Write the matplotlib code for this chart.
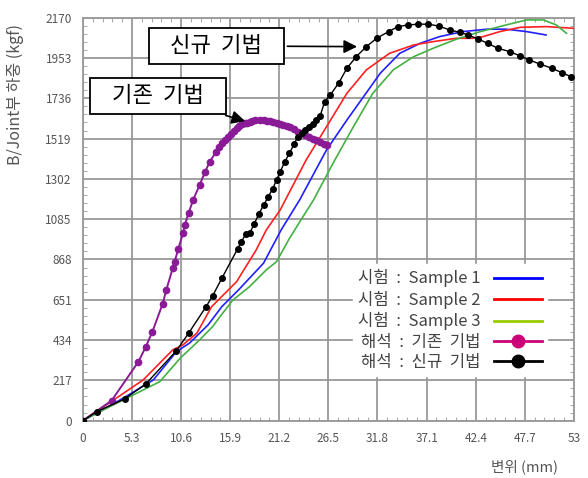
import matplotlib.pyplot as plt
import numpy as np
from matplotlib.lines import Line2D
from matplotlib.ticker import AutoMinorLocator

plt.rcParams['font.family'] = ['Noto Sans CJK KR', 'DejaVu Sans']

# ---- data ----
x_ticks = [0, 5.3, 10.6, 15.9, 21.2, 26.5, 31.8, 37.1, 42.4, 47.7, 53]
x_labels = ['0', '5.3', '10.6', '15.9', '21.2', '26.5', '31.8', '37.1', '42.4', '47.7', '53']
y_ticks = [0, 217, 434, 651, 868, 1085, 1302, 1519, 1736, 1953, 2170]

s1_x = [0, 4.35, 7.6, 10.1, 11.5, 13.5, 15.0, 16.8, 19.5, 21.4, 23.4, 26.3, 28.5, 30.3,
        32.1, 34.2, 36.4, 38.5, 41.0, 43.6, 45.7, 47.9, 50.0]
s1_y = [0, 121, 219, 372, 417, 515, 614, 704, 848, 1027, 1189, 1458, 1619, 1745,
        1871, 1978, 2032, 2068, 2095, 2108, 2108, 2095, 2077]

s2_x = [0, 3.6, 6.5, 9.7, 10.8, 12.3, 13.9, 16.6, 18.7, 19.8, 21.3, 24.1, 26.3, 28.5,
        30.6, 33.1, 35.7, 37.8, 40.3, 42.0, 43.2, 45.0, 47.2, 50.0, 52.9]
s2_y = [0, 121, 219, 381, 408, 471, 614, 749, 919, 1027, 1135, 1404, 1583, 1763,
        1889, 1978, 2023, 2041, 2059, 2059, 2068, 2095, 2118, 2122, 2113]

s3_x = [0, 2.9, 6.5, 8.3, 10.5, 12.6, 14.0, 14.8, 16.2, 18.0, 19.8, 20.9, 22.3, 24.9,
        27.0, 29.2, 31.3, 33.5, 35.7, 37.8, 40.3, 42.9, 45.7, 47.9, 49.7, 51.1, 52.2]
s3_y = [0, 75, 165, 210, 336, 435, 506, 560, 650, 722, 812, 856, 982, 1189,
        1386, 1583, 1763, 1889, 1960, 2005, 2054, 2095, 2131, 2158, 2158, 2131, 2086]

old_x = [0, 3.1, 6.0, 6.8, 7.5, 8.6, 9.0, 9.7, 9.9, 10.3, 10.8, 11.0, 11.4, 11.9,
         12.6, 13.2, 13.7, 14.4, 14.7, 15.0, 15.3, 15.7, 16.0, 16.3, 16.6, 16.9, 17.2,
         17.5, 17.7, 18.0, 18.3, 18.6, 19.1, 19.5, 19.9, 20.2, 20.5, 20.9, 21.3, 21.6,
         22.0, 22.4, 22.8, 23.2, 23.6, 24.0, 24.4, 24.8, 25.2, 25.6, 26.0, 26.3]
old_y = [0, 108, 318, 399, 479, 628, 704, 821, 856, 925, 1009, 1054, 1117, 1189,
         1269, 1341, 1395, 1449, 1472, 1494, 1512, 1529, 1545, 1560, 1575, 1586, 1595,
         1601, 1605, 1610, 1614, 1617, 1619, 1618, 1615, 1612, 1610, 1603, 1596, 1591,
         1587, 1579, 1571, 1556, 1548, 1538, 1528, 1518, 1509, 1500, 1492, 1487]

new_x = [0, 1.48, 4.5, 6.8, 10.1, 11.4, 13.3, 14.0, 15.0, 16.7, 17.1, 17.6, 18.0, 18.5,
         19.0, 19.5, 20.0, 20.5, 20.9, 21.3, 21.8, 22.3, 22.8, 23.2, 23.6, 24.0, 24.4,
         24.8, 25.2, 25.6, 26.1, 26.7, 27.6, 28.5, 29.5, 30.6, 31.7, 33.0, 34.0, 35.1,
         36.2, 37.3, 38.4, 39.6, 40.7, 41.6, 42.7, 43.7, 44.8, 46.1, 47.2, 48.2, 49.3,
         50.6, 51.7, 52.7]
new_y = [0, 48, 117, 198, 377, 470, 614, 672, 767, 925, 964, 1005, 1010, 1060,
         1115, 1160, 1205, 1250, 1296, 1341, 1395, 1440, 1490, 1529, 1548, 1565, 1582,
         1600, 1620, 1640, 1718, 1754, 1817, 1898, 1960, 2014, 2059, 2095, 2122, 2131,
         2135, 2135, 2125, 2104, 2091, 2077, 2054, 2032, 2005, 1987, 1964, 1942, 1921,
         1898, 1874, 1852]

legend_labels = ['시험  :  Sample 1', '시험  :  Sample 2', '시험  :  Sample 3',
                 '해석  :  기존  기법', '해석  :  신규  기법']

fig = plt.figure(figsize=(5.88, 4.78), dpi=100)
ax = fig.add_axes([0.141, 0.12, 0.835, 0.843])

grid_c = '#999999'
ax.plot(s1_x, s1_y, color='#2020ff', lw=1.2, zorder=3)
ax.plot(s2_x, s2_y, color='#ff2020', lw=1.2, zorder=3)
ax.plot(s3_x, s3_y, color='#44b044', lw=1.2, zorder=3)
ax.plot(old_x, old_y, color='#8a1a96', lw=1.4, marker='o', ms=4.5, zorder=4)
ax.plot(new_x, new_y, color='black', lw=1.0, marker='o', ms=4, zorder=5)

ax.set_xlim(0, 53)
ax.set_ylim(0, 2170)
ax.set_xticks(x_ticks)
ax.set_xticklabels(x_labels)
ax.set_yticks(y_ticks)
ax.xaxis.set_minor_locator(AutoMinorLocator(5))
ax.yaxis.set_minor_locator(AutoMinorLocator(5))
ax.tick_params(which='both', direction='in', colors=grid_c, labelcolor='#555555',
               labelsize=8.5, top=True, right=True)
ax.tick_params(which='major', length=0, pad=8)
ax.tick_params(which='minor', length=3)
ax.grid(True, which='major', color=grid_c, lw=1.3)
for s in ax.spines.values():
    s.set_color(grid_c)
    s.set_linewidth(1.3)

ax.set_ylabel('B/Joint부 하중 (kgf)', color='#555555', fontsize=11.5)
ax.yaxis.set_label_coords(-0.12, 0.81)
ax.set_xlabel('변위 (mm)', color='#555555', fontsize=10.5)
ax.xaxis.set_label_coords(0.90, -0.095)

box = dict(boxstyle='square,pad=0.3', fc='white', ec='black', lw=1.3)
ax.annotate('   신규  기법   ', xy=(29.9, 2014), xytext=(14.4, 2018), fontsize=16,
            ha='center', va='center', bbox=box, zorder=6,
            arrowprops=dict(arrowstyle='-|>', color='black', lw=1.2, mutation_scale=20))
ax.annotate('   기존  기법   ', xy=(17.8, 1609), xytext=(8.1, 1749), fontsize=16,
            ha='center', va='center', bbox=box, zorder=6,
            arrowprops=dict(arrowstyle='-|>', color='black', lw=1.2, mutation_scale=20))

handles = [Line2D([], [], color='#0000ff', lw=2),
           Line2D([], [], color='#ff0000', lw=2),
           Line2D([], [], color='#99cc00', lw=2),
           Line2D([], [], color='#cc0077', lw=2, marker='o', ms=9),
           Line2D([], [], color='black', lw=2, marker='o', ms=9)]
leg = ax.legend(handles, legend_labels, loc='lower right', bbox_to_anchor=(0.962, 0.09),
                markerfirst=False, frameon=True, fancybox=False, edgecolor='white',
                framealpha=1, fontsize=12, handlelength=2.9, labelspacing=0.2,
                borderpad=0.3, handletextpad=0.8)
for t in leg.get_texts():
    t.set_color('#444444')
leg.set_zorder(7)

fig.savefig('out.png', dpi=100)
